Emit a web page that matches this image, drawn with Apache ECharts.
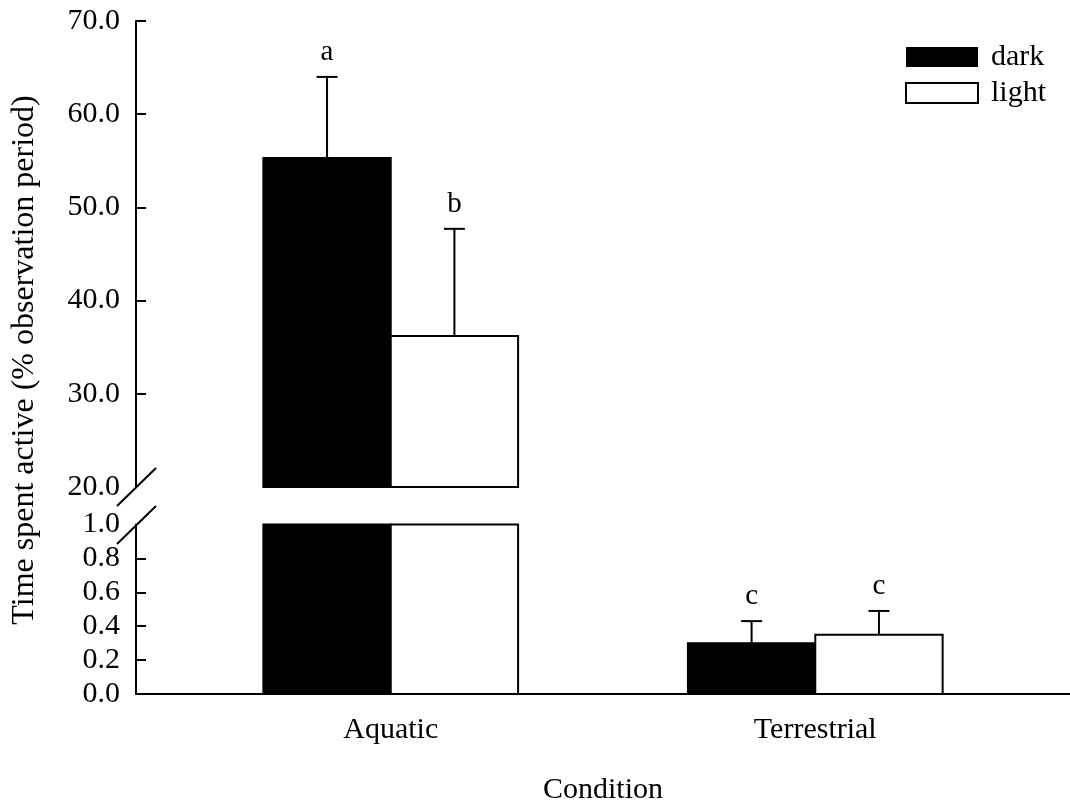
<!DOCTYPE html>
<html>
<head>
<meta charset="utf-8">
<script src="https://cdn.jsdelivr.net/npm/echarts@6/dist/echarts.min.js"></script>
<style>html,body{margin:0;padding:0;background:#fff}#c{width:1070px;height:806px}</style>
</head>
<body>
<div id="c"></div>
<script>
const categories = ['Aquatic', 'Terrestrial'];
const catPos = [1, 2];
const darkValues = [55.3, 0.30];
const darkErrors = [8.7, 0.13];
const darkLetters = ['a', 'c'];
const lightValues = [36.2, 0.35];
const lightErrors = [11.5, 0.14];
const lightLetters = ['b', 'c'];
const upperTicks = [20, 30, 40, 50, 60, 70];
const lowerTicks = [0, 0.2, 0.4, 0.6, 0.8, 1.0];

const FONT = 'Liberation Serif';
const HALF = 0.3;

function makeRender(lo, hi, side, letters) {
  return function (params, api) {
    const x = api.value(0), v = api.value(1), e = api.value(2);
    if (v <= lo) return null;
    const x0 = side < 0 ? x - HALF : x;
    const x1 = side < 0 ? x : x + HALF;
    const pA = api.coord([x0, lo]);
    const pB = api.coord([x1, Math.min(v, hi)]);
    const fill = side < 0 ? '#000' : '#fff';
    const children = [{
      type: 'rect',
      shape: { x: pA[0], y: pB[1], width: pB[0] - pA[0], height: pA[1] - pB[1] },
      style: { fill: fill, stroke: '#000', lineWidth: 2 }
    }];
    if (v < hi) {
      const xc = (x0 + x1) / 2;
      const pv = api.coord([xc, v]);
      const pe = api.coord([xc, Math.min(v + e, hi)]);
      children.push({ type: 'line', shape: { x1: pv[0], y1: pv[1], x2: pe[0], y2: pe[1] }, style: { stroke: '#000', lineWidth: 2 } });
      children.push({ type: 'line', shape: { x1: pe[0] - 10.5, y1: pe[1], x2: pe[0] + 10.5, y2: pe[1] }, style: { stroke: '#000', lineWidth: 2 } });
      children.push({ type: 'text', style: { x: pe[0], y: pe[1] - 10, text: letters[params.dataIndex], fill: '#000', font: '29px "' + FONT + '"', align: 'center', verticalAlign: 'bottom' } });
    }
    return { type: 'group', children: children };
  };
}

function seriesData(vals, errs) {
  return catPos.map((p, i) => [p, vals[i], errs[i]]);
}

const yAxisCommon = {
  type: 'value',
  axisLine: { show: true, lineStyle: { color: '#000', width: 2 } },
  axisTick: { show: true, inside: true, length: 10, lineStyle: { color: '#000', width: 2 } },
  axisLabel: { color: '#000', fontFamily: FONT, fontSize: 30, margin: 16 },
  splitLine: { show: false }
};

const option = {
  backgroundColor: '#fff',
  animation: false,
  grid: [
    { left: 136, right: 0, top: 21, bottom: 319 },
    { left: 136, right: 0, top: 524.5, bottom: 111 }
  ],
  xAxis: [
    { type: 'value', gridIndex: 0, min: 0.4, max: 2.6, show: false },
    {
      type: 'value', gridIndex: 1, min: 0.4, max: 2.6,
      name: 'Condition', nameLocation: 'middle', nameGap: 81,
      nameTextStyle: { color: '#000', fontFamily: FONT, fontSize: 30 },
      axisLine: { show: true, onZero: false, lineStyle: { color: '#000', width: 2 } },
      axisTick: { show: false },
      splitLine: { show: false },
      axisLabel: {
        customValues: catPos, color: '#000', fontFamily: FONT, fontSize: 30, margin: 21,
        formatter: v => categories[catPos.indexOf(v)] || ''
      }
    }
  ],
  yAxis: [
    Object.assign({}, yAxisCommon, {
      gridIndex: 0, min: 20, max: 70, interval: 10,
      axisTick: Object.assign({}, yAxisCommon.axisTick, { customValues: upperTicks.slice(1) }),
      axisLabel: Object.assign({}, yAxisCommon.axisLabel, { customValues: upperTicks, formatter: v => v.toFixed(1) })
    }),
    Object.assign({}, yAxisCommon, {
      gridIndex: 1, min: 0, max: 1, interval: 0.2,
      axisTick: Object.assign({}, yAxisCommon.axisTick, { customValues: lowerTicks.slice(1, -1) }),
      axisLabel: Object.assign({}, yAxisCommon.axisLabel, { customValues: lowerTicks, formatter: v => v.toFixed(1) })
    })
  ],
  legend: {
    orient: 'vertical', left: 900, top: 37, itemWidth: 72, itemHeight: 20, itemGap: 6,
    icon: 'rect',
    textStyle: { color: '#000', fontFamily: FONT, fontSize: 30, padding: [0, 0, 0, 8] },
    data: ['dark', 'light']
  },
  series: [
    { name: 'dark', type: 'custom', xAxisIndex: 0, yAxisIndex: 0, clip: false, encode: { x: 0, y: 1 },
      itemStyle: { color: '#000' }, renderItem: makeRender(20, 70, -1, darkLetters), data: seriesData(darkValues, darkErrors) },
    { name: 'light', type: 'custom', xAxisIndex: 0, yAxisIndex: 0, clip: false, encode: { x: 0, y: 1 },
      itemStyle: { color: '#fff', borderColor: '#000', borderWidth: 2 }, renderItem: makeRender(20, 70, 1, lightLetters), data: seriesData(lightValues, lightErrors) },
    { name: 'dark', type: 'custom', xAxisIndex: 1, yAxisIndex: 1, clip: false, encode: { x: 0, y: 1 },
      itemStyle: { color: '#000' }, renderItem: makeRender(0, 1, -1, darkLetters), data: seriesData(darkValues, darkErrors) },
    { name: 'light', type: 'custom', xAxisIndex: 1, yAxisIndex: 1, clip: false, encode: { x: 0, y: 1 },
      itemStyle: { color: '#fff', borderColor: '#000', borderWidth: 2 }, renderItem: makeRender(0, 1, 1, lightLetters), data: seriesData(lightValues, lightErrors) }
  ],
  graphic: [
    { type: 'text', x: 25, y: 360, rotation: Math.PI / 2,
      style: { text: 'Time spent active (% observation period)', fill: '#000', font: '32px "' + FONT + '"', align: 'center', verticalAlign: 'middle' } },
    { type: 'line', shape: { x1: 117, y1: 506, x2: 156, y2: 468 }, style: { stroke: '#000', lineWidth: 2 } },
    { type: 'line', shape: { x1: 117, y1: 544, x2: 156, y2: 506 }, style: { stroke: '#000', lineWidth: 2 } }
  ]
};

const chart = echarts.init(document.getElementById('c'), null, { renderer: 'canvas' });
chart.setOption(option);
</script>
</body>
</html>
